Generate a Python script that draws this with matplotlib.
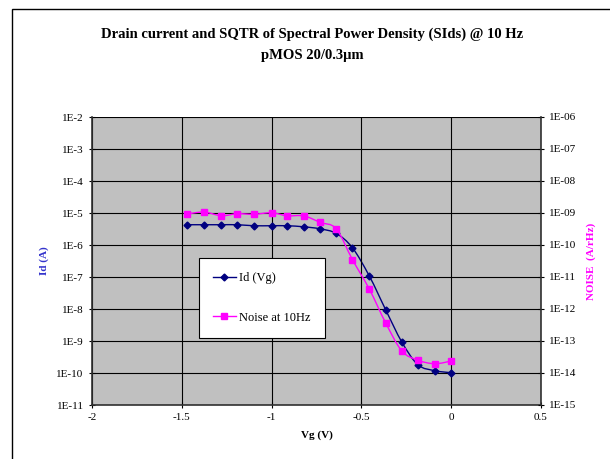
import numpy as np
import matplotlib
matplotlib.use("Agg")
import matplotlib.pyplot as plt
from matplotlib.path import Path
from matplotlib.patches import PathPatch, Rectangle
from matplotlib.lines import Line2D

plt.rcParams['font.family'] = ['Liberation Serif', 'DejaVu Serif']

# data
vg = [-1.47, -1.375, -1.28, -1.19, -1.10, -1.0, -0.915, -0.82, -0.73,
      -0.64, -0.55, -0.455, -0.365, -0.275, -0.185, -0.09, 0.0]
id_a = [4.3e-6, 4.3e-6, 4.3e-6, 4.3e-6, 4.0e-6, 4.0e-6, 4.0e-6, 3.7e-6, 3.2e-6,
        2.3e-6, 8.2e-7, 1.05e-7, 9.5e-9, 9.3e-10, 1.8e-10, 1.18e-10, 1.02e-10]
noise = [9.3e-10, 1.07e-9, 8.2e-10, 9.5e-10, 9.1e-10, 1.02e-9, 8.2e-10, 8.1e-10, 5.1e-10,
         3.2e-10, 3.5e-11, 4.1e-12, 3.7e-13, 4.9e-14, 2.5e-14, 1.95e-14, 2.37e-14]

xticks = [-2, -1.5, -1, -0.5, 0, 0.5]
xlabels = ['-2', '-1.5', '-1', '-0.5', '0', '0.5']
left_exp = list(range(-2, -12, -1))
right_exp = list(range(-6, -16, -1))


def smooth_path(x, y):
    # excel style smoothed line: catmull-rom -> bezier, in log space
    x = np.asarray(x, float)
    ly = np.log10(y)
    p = np.column_stack([x, ly])
    pp = np.vstack([p[0], p, p[-1]])
    verts = [p[0]]
    codes = [Path.MOVETO]
    for i in range(len(p) - 1):
        p0, p1, p2, p3 = pp[i], pp[i + 1], pp[i + 2], pp[i + 3]
        c1 = p1 + (p2 - p0) / 6
        c2 = p2 - (p3 - p1) / 6
        verts += [c1, c2, p2]
        codes += [Path.CURVE4] * 3
    verts = np.array(verts)
    verts[:, 1] = 10 ** verts[:, 1]
    return Path(verts, codes)


fig = plt.figure(figsize=(6.1, 4.59), dpi=100)
fig.patches.append(Rectangle((12.5 / 610, -0.1), 1.2, 1.1 - 9 / 459, transform=fig.transFigure,
                             fill=False, edgecolor='black', linewidth=1.0))

ax = fig.add_axes([92 / 610, 1 - 405 / 459, 449 / 610, 288 / 459])
ax.set_facecolor('#C0C0C0')
ax.set_yscale('log')
ax.set_xlim(-2, 0.5)
ax.set_ylim(1e-11, 1e-2)
ax.set_xticks(xticks)
ax.set_xticklabels(xlabels, fontsize=8)
ax.set_yticks([10.0 ** e for e in left_exp])
ax.set_yticklabels(['1E%d' % e for e in left_exp], fontsize=8)
ax.yaxis.set_minor_locator(matplotlib.ticker.NullLocator())
ax.grid(True, color='black', linewidth=0.8)
ax.tick_params(direction='inout', length=5, width=0.8)
for s in ax.spines.values():
    s.set_linewidth(1.2)
    s.set_color('#303030')
ax.spines['top'].set_visible(False)
ax.spines['right'].set_visible(False)

ax2 = ax.twinx()
ax2.set_yscale('log')
ax2.set_ylim(1e-15, 1e-6)
ax2.set_yticks([10.0 ** e for e in right_exp])
ax2.set_yticklabels(['1E-%02d' % -e for e in right_exp], fontsize=8)
ax2.yaxis.set_minor_locator(matplotlib.ticker.NullLocator())
ax2.tick_params(direction='inout', length=5, width=0.8)
ax2.spines['top'].set_visible(False)
ax2.spines['left'].set_visible(False)
ax2.spines['bottom'].set_visible(False)
ax2.spines['right'].set_linewidth(1.2)
ax2.spines['right'].set_color('#303030')

navy = '#000080'
mag = '#FF00FF'
ax.add_patch(PathPatch(smooth_path(vg, id_a), fill=False, edgecolor=navy, linewidth=1.0))
ax.plot(vg, id_a, linestyle='none', marker='D', markersize=3.5, color=navy)
ax2.add_patch(PathPatch(smooth_path(vg, noise), fill=False, edgecolor=mag, linewidth=1.0))
ax2.plot(vg, noise, linestyle='none', marker='s', markersize=4.5, color=mag)

handles = [Line2D([], [], color=navy, marker='D', markersize=3.5, linewidth=1.0),
           Line2D([], [], color=mag, marker='s', markersize=4.5, linewidth=1.0)]
leg = ax2.legend(handles, ['Id (Vg)', 'Noise at 10Hz'], loc='lower left',
                 bbox_to_anchor=(0.238, 0.233), borderaxespad=0, fontsize=9, fancybox=False,
                 edgecolor='black', framealpha=1, labelspacing=2.2, borderpad=1.15,
                 handlelength=1.8, handletextpad=0.25)
leg.get_frame().set_linewidth(0.8)

ax.set_xlabel('Vg (V)', fontsize=8, fontweight='bold', labelpad=6)
ax.set_ylabel('Id (A)', fontsize=8, fontweight='bold', color='#3333CC', labelpad=5)
ax2.set_ylabel('NOISE  (A/rHz)', fontsize=8, fontweight='bold', color=mag, labelpad=7)

fig.text(312 / 610, 1 - 34 / 459, 'Drain current and SQTR of Spectral Power Density (SIds) @ 10 Hz',
         ha='center', va='center', fontsize=10.5, fontweight='bold')
fig.text(312 / 610, 1 - 56 / 459, 'pMOS 20/0.3µm', ha='center', va='center',
         fontsize=10.5, fontweight='bold')

fig.savefig('out.png', dpi=100)
